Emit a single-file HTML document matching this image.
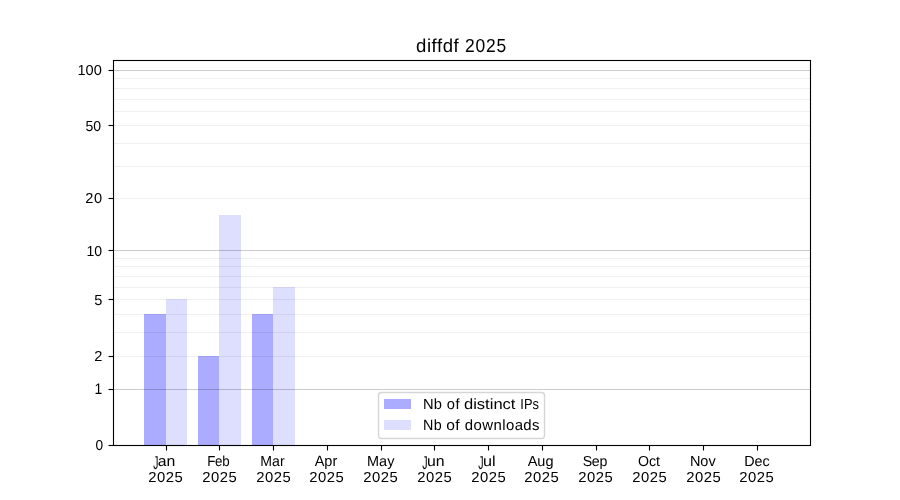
<!DOCTYPE html>
<html><head><meta charset="utf-8"><title>diffdf 2025</title>
<style>
html,body{margin:0;padding:0;background:#fff;}
body{width:900px;height:500px;overflow:hidden;}
svg{display:block;}
text{font-family:"Liberation Sans",sans-serif;fill:#000;}
</style></head><body>
<svg width="900" height="500" viewBox="0 0 900 500">
<rect x="0" y="0" width="900" height="500" fill="#ffffff"/>
<g shape-rendering="crispEdges">
<rect x="144" y="314" width="22" height="131" fill="#ababff"/>
<rect x="166" y="299" width="21" height="146" fill="#dedeff"/>
<rect x="198" y="356" width="21" height="89" fill="#ababff"/>
<rect x="219" y="215" width="22" height="230" fill="#dedeff"/>
<rect x="252" y="314" width="21" height="131" fill="#ababff"/>
<rect x="273" y="287" width="22" height="158" fill="#dedeff"/>
</g>
<g stroke="#000" stroke-width="1.11" fill="none">
<g stroke-opacity="0.06">
<line x1="113.5" x2="810.5" y1="78.5" y2="78.5"/>
<line x1="113.5" x2="810.5" y1="88.5" y2="88.5"/>
<line x1="113.5" x2="810.5" y1="99.5" y2="99.5"/>
<line x1="113.5" x2="810.5" y1="111.5" y2="111.5"/>
<line x1="113.5" x2="810.5" y1="125.5" y2="125.5"/>
<line x1="113.5" x2="810.5" y1="143.5" y2="143.5"/>
<line x1="113.5" x2="810.5" y1="166.5" y2="166.5"/>
<line x1="113.5" x2="810.5" y1="198.5" y2="198.5"/>
<line x1="113.5" x2="810.5" y1="258.5" y2="258.5"/>
<line x1="113.5" x2="810.5" y1="266.5" y2="266.5"/>
<line x1="113.5" x2="810.5" y1="276.5" y2="276.5"/>
<line x1="113.5" x2="810.5" y1="287.5" y2="287.5"/>
<line x1="113.5" x2="810.5" y1="299.5" y2="299.5"/>
<line x1="113.5" x2="810.5" y1="314.5" y2="314.5"/>
<line x1="113.5" x2="810.5" y1="332.5" y2="332.5"/>
<line x1="113.5" x2="810.5" y1="356.5" y2="356.5"/>
</g>
<g stroke-opacity="0.2">
<line x1="113.5" x2="810.5" y1="70.5" y2="70.5"/>
<line x1="113.5" x2="810.5" y1="250.5" y2="250.5"/>
<line x1="113.5" x2="810.5" y1="389.5" y2="389.5"/>
</g>
<line x1="108.5" x2="113.5" y1="445.5" y2="445.5"/>
<line x1="108.5" x2="113.5" y1="389.5" y2="389.5"/>
<line x1="108.5" x2="113.5" y1="356.5" y2="356.5"/>
<line x1="108.5" x2="113.5" y1="299.5" y2="299.5"/>
<line x1="108.5" x2="113.5" y1="250.5" y2="250.5"/>
<line x1="108.5" x2="113.5" y1="198.5" y2="198.5"/>
<line x1="108.5" x2="113.5" y1="125.5" y2="125.5"/>
<line x1="108.5" x2="113.5" y1="70.5" y2="70.5"/>
<line x1="166.5" x2="166.5" y1="445.5" y2="450.5"/>
<line x1="219.5" x2="219.5" y1="445.5" y2="450.5"/>
<line x1="273.5" x2="273.5" y1="445.5" y2="450.5"/>
<line x1="327.5" x2="327.5" y1="445.5" y2="450.5"/>
<line x1="381.5" x2="381.5" y1="445.5" y2="450.5"/>
<line x1="434.5" x2="434.5" y1="445.5" y2="450.5"/>
<line x1="488.5" x2="488.5" y1="445.5" y2="450.5"/>
<line x1="542.5" x2="542.5" y1="445.5" y2="450.5"/>
<line x1="596.5" x2="596.5" y1="445.5" y2="450.5"/>
<line x1="649.5" x2="649.5" y1="445.5" y2="450.5"/>
<line x1="703.5" x2="703.5" y1="445.5" y2="450.5"/>
<line x1="757.5" x2="757.5" y1="445.5" y2="450.5"/>
<rect x="113.5" y="60.5" width="697.0" height="385.0" stroke-linejoin="miter"/>
</g>
<rect x="378.5" y="392.5" width="166" height="46" rx="3.0" ry="3.0" fill="#fff" fill-opacity="0.8" stroke="#ccc" stroke-opacity="0.8" stroke-width="1.39"/>
<g shape-rendering="crispEdges">
<rect x="384" y="399" width="27" height="10" fill="#ababff"/>
<rect x="384" y="420" width="27" height="10" fill="#dedeff"/>
</g>
<g style="will-change:transform;text-rendering:geometricPrecision" stroke="#000" stroke-width="0.0" stroke-linejoin="round">
<text y="52.00" font-size="18.786"><tspan x="415.99" textLength="43.38" lengthAdjust="spacingAndGlyphs" letter-spacing="0.577">diffdf</tspan> <tspan x="465.11" textLength="41.78" lengthAdjust="spacingAndGlyphs" letter-spacing="0.826">2025</tspan></text>
<text transform="translate(103.00 450.00) scale(0.9421 1)" text-anchor="end" font-size="14.500">0</text>
<text transform="translate(102.33 394.00) scale(0.9121 1)" text-anchor="end" font-size="15.325">1</text>
<text transform="translate(102.50 361.00) scale(1.0059 1)" text-anchor="end" font-size="14.500">2</text>
<text transform="translate(102.50 305.00) scale(0.9946 1)" text-anchor="end" font-size="14.711">5</text>
<text transform="translate(102.00 256.00) scale(0.9674 1)" text-anchor="end" font-size="14.500">10</text>
<text transform="translate(102.60 203.00) scale(1.0045 1)" text-anchor="end" font-size="14.500" letter-spacing="0.600">20</text>
<text transform="translate(101.00 131.00) scale(0.9673 1)" text-anchor="end" font-size="14.500">50</text>
<text transform="translate(101.83 75.00) scale(1.0043 1)" text-anchor="end" font-size="14.500">100</text>
<text y="466.00" font-size="14.900"><tspan x="153.20" dy="3" font-size="18.711" textLength="5.14" lengthAdjust="spacingAndGlyphs">J</tspan><tspan x="157.65" dy="-3" textLength="17.60" lengthAdjust="spacingAndGlyphs">an</tspan></text>
<text transform="translate(165.75 482.00) scale(1.0226 1)" text-anchor="middle" font-size="14.500" letter-spacing="0.449">2025</text>
<text transform="translate(218.22 466.00) scale(0.9192 1)" text-anchor="middle" font-size="14.500" letter-spacing="-0.300">Feb</text>
<text transform="translate(219.75 482.00) scale(1.0226 1)" text-anchor="middle" font-size="14.500" letter-spacing="0.449">2025</text>
<text transform="translate(272.48 466.00) scale(0.9719 1)" text-anchor="middle" font-size="14.500">Mar</text>
<text transform="translate(273.75 482.00) scale(1.0226 1)" text-anchor="middle" font-size="14.500" letter-spacing="0.449">2025</text>
<text transform="translate(325.97 466.00) scale(0.9675 1)" text-anchor="middle" font-size="14.986">Apr</text>
<text transform="translate(326.75 482.00) scale(1.0226 1)" text-anchor="middle" font-size="14.500" letter-spacing="0.449">2025</text>
<text transform="translate(380.71 466.00) scale(0.9964 1)" text-anchor="middle" font-size="14.500">May</text>
<text transform="translate(380.75 482.00) scale(1.0226 1)" text-anchor="middle" font-size="14.500" letter-spacing="0.449">2025</text>
<text y="466.00" font-size="14.900"><tspan x="422.20" dy="3" font-size="18.711" textLength="5.31" lengthAdjust="spacingAndGlyphs">J</tspan><tspan x="426.90" dy="-3" textLength="17.60" lengthAdjust="spacingAndGlyphs">un</tspan></text>
<text transform="translate(434.75 482.00) scale(1.0226 1)" text-anchor="middle" font-size="14.500" letter-spacing="0.449">2025</text>
<text y="466.00" font-size="14.500"><tspan x="478.20" dy="3" font-size="18.711" textLength="5.31" lengthAdjust="spacingAndGlyphs">J</tspan><tspan x="482.90" dy="-3" textLength="12.60" lengthAdjust="spacingAndGlyphs">ul</tspan></text>
<text transform="translate(488.75 482.00) scale(1.0226 1)" text-anchor="middle" font-size="14.500" letter-spacing="0.449">2025</text>
<text transform="translate(540.58 466.00) scale(1.0000 1)" text-anchor="middle" font-size="14.500">Aug</text>
<text transform="translate(541.75 482.00) scale(1.0226 1)" text-anchor="middle" font-size="14.500" letter-spacing="0.449">2025</text>
<text transform="translate(594.85 466.00) scale(0.9775 1)" text-anchor="middle" font-size="14.500" letter-spacing="-0.300">Sep</text>
<text transform="translate(595.75 482.00) scale(1.0226 1)" text-anchor="middle" font-size="14.500" letter-spacing="0.449">2025</text>
<text transform="translate(648.89 466.00) scale(0.9761 1)" text-anchor="middle" font-size="14.500">Oct</text>
<text transform="translate(649.75 482.00) scale(1.0226 1)" text-anchor="middle" font-size="14.500" letter-spacing="0.449">2025</text>
<text transform="translate(702.80 466.00) scale(0.9877 1)" text-anchor="middle" font-size="14.711">Nov</text>
<text transform="translate(703.75 482.00) scale(1.0226 1)" text-anchor="middle" font-size="14.500" letter-spacing="0.449">2025</text>
<text transform="translate(756.89 466.00) scale(0.9883 1)" text-anchor="middle" font-size="14.500">Dec</text>
<text transform="translate(756.75 482.00) scale(1.0226 1)" text-anchor="middle" font-size="14.500" letter-spacing="0.449">2025</text>
<text y="409.00" font-size="14.725"><tspan x="423.06" textLength="18.83" lengthAdjust="spacingAndGlyphs" letter-spacing="0.014">Nb</tspan> <tspan x="446.80" textLength="13.17" lengthAdjust="spacingAndGlyphs" letter-spacing="0.451">of</tspan> <tspan x="463.98" textLength="51.49" lengthAdjust="spacingAndGlyphs">distinct</tspan> <tspan x="520.21" textLength="18.96" lengthAdjust="spacingAndGlyphs" letter-spacing="0.141">IPs</tspan></text>
<text y="430.00" font-size="15.000"><tspan x="423.03" textLength="18.91" lengthAdjust="spacingAndGlyphs" letter-spacing="0.300">Nb</tspan> <tspan x="446.28" textLength="13.84" lengthAdjust="spacingAndGlyphs" letter-spacing="0.382">of</tspan> <tspan x="464.69" textLength="75.34" lengthAdjust="spacingAndGlyphs" letter-spacing="0.436">downloads</tspan></text>
</g>
</svg>
</body></html>
